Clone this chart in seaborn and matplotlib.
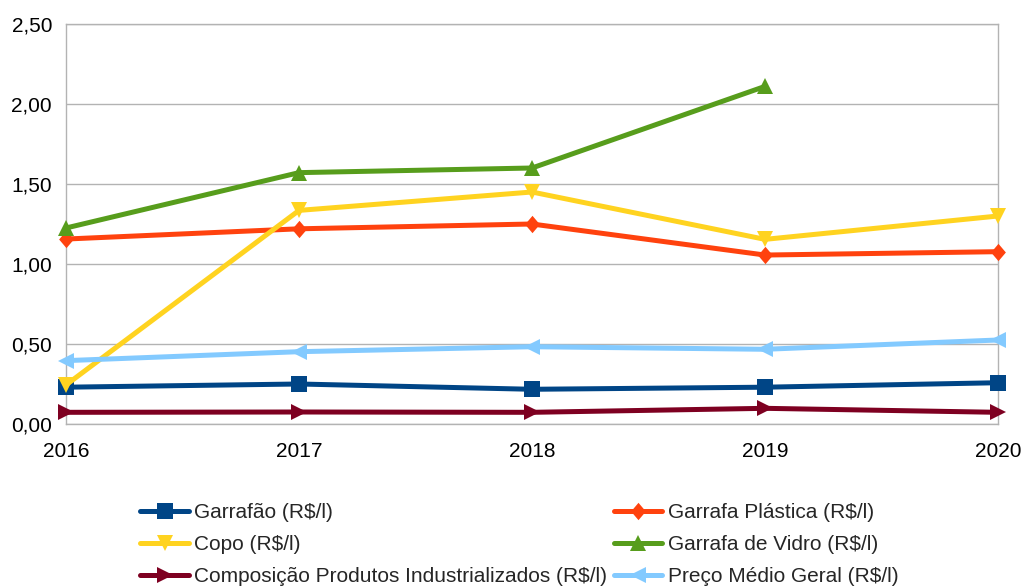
import matplotlib
matplotlib.use("Agg")
import matplotlib.pyplot as plt
import seaborn as sns
import numpy as np
import pandas as pd
from matplotlib.ticker import FuncFormatter

anos = [2016, 2017, 2018, 2019, 2020]

garrafao = [0.23, 0.25, 0.217, 0.23, 0.258]
garrafa_plastica = [1.156, 1.22, 1.25, 1.056, 1.077]
copo = [0.244, 1.335, 1.45, 1.154, 1.30]
garrafa_vidro = [1.225, 1.571, 1.60, 2.11, np.nan]
composicao = [0.073, 0.075, 0.073, 0.098, 0.073]
preco_medio = [0.396, 0.452, 0.483, 0.467, 0.525]

series = {
    "Garrafão (R$/l)": garrafao,
    "Garrafa Plástica (R$/l)": garrafa_plastica,
    "Copo (R$/l)": copo,
    "Garrafa de Vidro (R$/l)": garrafa_vidro,
    "Composição Produtos Industrializados (R$/l)": composicao,
    "Preço Médio Geral (R$/l)": preco_medio,
}
cores = ["#004586", "#ff420e", "#ffd320", "#579d1c", "#7e0021", "#83caff"]
# losango um pouco mais alto que largo, como no LibreOffice
losango = [(0, 1), (0.85, 0), (0, -1), (-0.85, 0), (0, 1)]
marcadores = ["s", losango, "v", "^", ">", "<"]
tamanhos = [11.5, 12.5, 11.5, 11.5, 11.5, 11.5]

# tabela longa para o seaborn
df = pd.concat(
    [pd.DataFrame({"Ano": anos, "Valor": v, "Serie": k}) for k, v in series.items()],
    ignore_index=True,
)

sns.set_style("white")
plt.rcParams["font.family"] = ["Liberation Sans", "DejaVu Sans"]

fig = plt.figure(figsize=(10.21, 5.88), dpi=100)
ax = fig.add_axes([66 / 1021, 1 - 424 / 588, (998 - 66) / 1021, 400 / 588])

for nome, cor, mk, ms in zip(series.keys(), cores, marcadores, tamanhos):
    sub = df[df["Serie"] == nome].dropna()
    sns.lineplot(data=sub, x="Ano", y="Valor", color=cor, marker=mk,
                 markersize=ms, markeredgewidth=0, linewidth=3.6,
                 label=nome, ax=ax, clip_on=False, zorder=3)

ax.set_xlim(2016, 2020)
ax.set_ylim(0, 2.5)
ax.set_xticks(anos)
ax.set_yticks(np.arange(0, 2.51, 0.5))
ax.yaxis.set_major_formatter(FuncFormatter(lambda v, p: f"{v:.2f}".replace(".", ",")))
ax.set_xlabel("")
ax.set_ylabel("")
ax.grid(axis="y", color="#b3b3b3", linewidth=1)
ax.grid(axis="x", visible=False)
for s in ax.spines.values():
    s.set_color("#b3b3b3")
    s.set_linewidth(1)
ax.tick_params(axis="both", labelsize=15, colors="#b3b3b3", labelcolor="black")
ax.tick_params(axis="x", length=6, width=1, pad=7)
ax.tick_params(axis="y", length=4, width=1, pad=6)

handles, labels = ax.get_legend_handles_labels()
ax.get_legend().remove()
ordem = [0, 2, 4, 1, 3, 5]
fig.legend([handles[i] for i in ordem], [labels[i] for i in ordem],
           ncol=2, loc="lower left", bbox_to_anchor=(138 / 1021, 0.0),
           frameon=False, fontsize=15, handlelength=2.35, handletextpad=0.25,
           columnspacing=0.3, labelspacing=0.62, borderaxespad=0.0,
           borderpad=0.1)

fig.savefig("out.png", dpi=100)
